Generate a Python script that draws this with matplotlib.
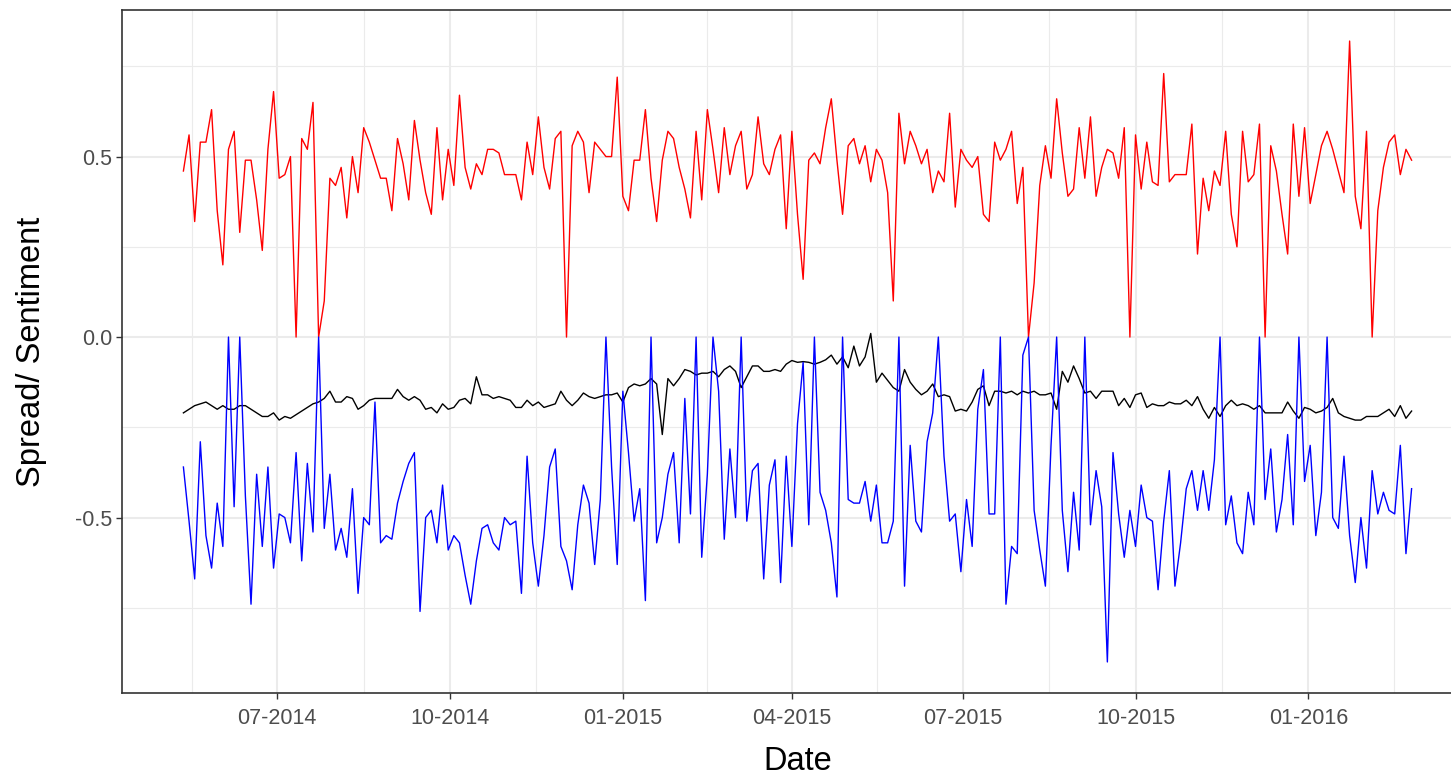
import numpy as np
import pandas as pd
import matplotlib
matplotlib.use("Agg")
import matplotlib.pyplot as plt
import matplotlib.dates as mdates
from matplotlib.ticker import FixedLocator, FuncFormatter

start_date = "2014-05-12"
step_days = 3

red_values = [
    0.46, 0.56, 0.32, 0.54, 0.54, 0.63, 0.35, 0.20, 0.52, 0.57,
    0.29, 0.49, 0.49, 0.38, 0.24, 0.52, 0.68, 0.44, 0.45, 0.50,
    0.00, 0.55, 0.52, 0.65, 0.00, 0.10, 0.44, 0.42, 0.47, 0.33,
    0.50, 0.40, 0.58, 0.54, 0.49, 0.44,
    0.44, 0.35, 0.55, 0.48, 0.38, 0.60, 0.49, 0.40, 0.34, 0.58,
    0.38, 0.52, 0.42, 0.67, 0.47, 0.41, 0.48, 0.45, 0.52, 0.52,
    0.51, 0.45, 0.45, 0.45, 0.38, 0.54, 0.45, 0.61, 0.47, 0.41,
    0.55, 0.57, 0.00, 0.53, 0.57, 0.54, 0.40,
    0.54, 0.52, 0.50, 0.50, 0.72, 0.39, 0.35, 0.49, 0.49, 0.63,
    0.44, 0.32, 0.49, 0.57, 0.55, 0.47, 0.41, 0.33, 0.57, 0.38,
    0.63, 0.52, 0.40, 0.58, 0.45, 0.53, 0.57, 0.41, 0.45, 0.61,
    0.48, 0.45, 0.52, 0.56, 0.30, 0.57,
    0.34, 0.16, 0.49, 0.51, 0.48, 0.58, 0.66, 0.49, 0.34, 0.53,
    0.55, 0.48, 0.53, 0.43, 0.52, 0.49, 0.40, 0.10, 0.62, 0.48,
    0.57, 0.53, 0.48, 0.52, 0.40, 0.46, 0.43, 0.62, 0.36, 0.52,
    0.49, 0.47, 0.50, 0.34, 0.32, 0.54, 0.49,
    0.52, 0.57, 0.37, 0.47, 0.00, 0.15, 0.42, 0.53, 0.44, 0.66,
    0.51, 0.39, 0.41, 0.58, 0.44, 0.61, 0.39, 0.47, 0.52, 0.51,
    0.44, 0.58, 0.00, 0.56, 0.41, 0.54, 0.43, 0.42, 0.73, 0.43,
    0.45, 0.45, 0.45, 0.59, 0.23, 0.44,
    0.35, 0.46, 0.42, 0.57, 0.34, 0.25, 0.57, 0.43, 0.45, 0.59,
    0.00, 0.53, 0.46, 0.34, 0.23, 0.59, 0.39, 0.58, 0.37, 0.45,
    0.53, 0.57, 0.52, 0.46, 0.40, 0.82, 0.39, 0.30, 0.57, 0.00,
    0.35, 0.47, 0.54, 0.56, 0.45, 0.52, 0.49,
]

blue_values = [
    -0.36, -0.51, -0.67, -0.29, -0.55, -0.64, -0.46, -0.58, 0.00, -0.47,
    0.00, -0.44, -0.74, -0.38, -0.58, -0.36, -0.64, -0.49, -0.50, -0.57,
    -0.32, -0.62, -0.35, -0.54, 0.00, -0.53, -0.38, -0.59, -0.53, -0.61,
    -0.42, -0.71, -0.50, -0.52, -0.18, -0.57,
    -0.55, -0.56, -0.46, -0.40, -0.35, -0.32, -0.76, -0.50, -0.48, -0.57,
    -0.41, -0.59, -0.55, -0.57, -0.66, -0.74, -0.62, -0.53, -0.52, -0.57,
    -0.59, -0.50, -0.52, -0.51, -0.71, -0.33, -0.57, -0.69, -0.55, -0.36,
    -0.31, -0.58, -0.62, -0.70, -0.52, -0.41, -0.46,
    -0.63, -0.45, 0.00, -0.36, -0.63, -0.15, -0.32, -0.51, -0.42, -0.73,
    0.00, -0.57, -0.50, -0.38, -0.32, -0.57, -0.17, -0.49, 0.00, -0.61,
    -0.38, 0.00, -0.15, -0.56, -0.31, -0.50, 0.00, -0.51, -0.37, -0.35,
    -0.67, -0.41, -0.34, -0.68, -0.33, -0.58,
    -0.24, -0.07, -0.52, 0.00, -0.43, -0.48, -0.57, -0.72, 0.00, -0.45,
    -0.46, -0.46, -0.40, -0.51, -0.41, -0.57, -0.57, -0.51, 0.00, -0.69,
    -0.30, -0.51, -0.54, -0.29, -0.21, 0.00, -0.33, -0.51, -0.49, -0.65,
    -0.45, -0.58, -0.20, -0.09, -0.49, -0.49, 0.00,
    -0.74, -0.58, -0.60, -0.05, 0.00, -0.48, -0.59, -0.69, -0.30, 0.00,
    -0.48, -0.65, -0.43, -0.59, 0.00, -0.52, -0.37, -0.47, -0.90, -0.32,
    -0.49, -0.61, -0.48, -0.58, -0.41, -0.50, -0.51, -0.70, -0.51, -0.37,
    -0.69, -0.57, -0.42, -0.37, -0.48, -0.37,
    -0.48, -0.34, 0.00, -0.52, -0.44, -0.57, -0.60, -0.43, -0.52, 0.00,
    -0.45, -0.31, -0.54, -0.45, -0.27, -0.52, 0.00, -0.40, -0.30, -0.55,
    -0.43, 0.00, -0.50, -0.53, -0.33, -0.55, -0.68, -0.50, -0.64, -0.37,
    -0.49, -0.43, -0.48, -0.49, -0.30, -0.60, -0.42,
]

black_values = [
    -0.21, -0.20, -0.19, -0.185, -0.18, -0.19, -0.20, -0.19, -0.20, -0.20,
    -0.19, -0.19, -0.20, -0.21, -0.22, -0.22, -0.21, -0.23, -0.22, -0.225,
    -0.215, -0.205, -0.195, -0.185, -0.18, -0.17, -0.15, -0.18, -0.18, -0.165,
    -0.17, -0.20, -0.19, -0.175, -0.17, -0.17,
    -0.17, -0.17, -0.145, -0.165, -0.175, -0.165, -0.175, -0.20, -0.195, -0.21,
    -0.185, -0.20, -0.195, -0.175, -0.17, -0.185, -0.11, -0.16, -0.16, -0.17,
    -0.165, -0.17, -0.175, -0.195, -0.195, -0.175, -0.19, -0.18, -0.195, -0.19,
    -0.185, -0.15, -0.175, -0.19, -0.175, -0.155, -0.165,
    -0.17, -0.165, -0.16, -0.16, -0.155, -0.18, -0.14, -0.13, -0.135, -0.13,
    -0.115, -0.13, -0.27, -0.115, -0.135, -0.115, -0.09, -0.095, -0.105, -0.10,
    -0.10, -0.095, -0.11, -0.09, -0.08, -0.095, -0.14, -0.11, -0.08, -0.08,
    -0.095, -0.095, -0.09, -0.095, -0.075, -0.065,
    -0.07, -0.068, -0.07, -0.075, -0.07, -0.063, -0.05, -0.075, -0.055, -0.085,
    -0.025, -0.08, -0.055, 0.01, -0.125, -0.10, -0.12, -0.14, -0.15, -0.09,
    -0.125, -0.145, -0.16, -0.15, -0.13, -0.165, -0.16, -0.165, -0.205, -0.20,
    -0.205, -0.18, -0.145, -0.135, -0.19, -0.15, -0.15,
    -0.155, -0.15, -0.16, -0.15, -0.155, -0.15, -0.16, -0.16, -0.155, -0.20,
    -0.095, -0.125, -0.08, -0.115, -0.155, -0.15, -0.17, -0.15, -0.15, -0.15,
    -0.19, -0.17, -0.195, -0.16, -0.155, -0.195, -0.185, -0.19, -0.19, -0.18,
    -0.185, -0.185, -0.175, -0.19, -0.165, -0.20,
    -0.225, -0.195, -0.22, -0.19, -0.175, -0.19, -0.185, -0.19, -0.20, -0.19,
    -0.21, -0.21, -0.21, -0.21, -0.18, -0.205, -0.225, -0.195, -0.20, -0.21,
    -0.205, -0.195, -0.17, -0.21, -0.22, -0.225, -0.23, -0.23, -0.22, -0.22,
    -0.22, -0.21, -0.20, -0.22, -0.19, -0.225, -0.205,
]

y_major = [-0.5, 0.0, 0.5]
y_minor = [-0.75, -0.25, 0.25, 0.75]
x_label = "Date"
y_label = "Spread/ Sentiment"

# ---- figure ----
plt.rcParams['font.family'] = ['Liberation Sans', 'DejaVu Sans']

dates = pd.date_range(start_date, periods=len(red_values), freq=f"{step_days}D")

W, H = 1451, 776
fig = plt.figure(figsize=(W / 100, H / 100), dpi=100)
# the reference panel runs past the right edge of the picture
ax = fig.add_axes([122 / W, 1 - 693 / H, (1473 - 122) / W, (693 - 10) / H])

ax.plot(dates, red_values, color="red", lw=1.0, zorder=3)
ax.plot(dates, black_values, color="black", lw=1.0, zorder=3)
ax.plot(dates, blue_values, color="blue", lw=1.0, zorder=4)
ax.margins(x=0.05, y=0.05)

# x axis: quarterly breaks, minor at midpoints
quarters = pd.date_range("2014-01-01", "2016-07-01", freq="QS")
qnum = mdates.date2num(quarters.to_pydatetime())
ax.xaxis.set_major_locator(FixedLocator(qnum))
ax.xaxis.set_minor_locator(FixedLocator((qnum[:-1] + qnum[1:]) / 2))
ax.xaxis.set_major_formatter(mdates.DateFormatter("%m-%Y"))

ax.yaxis.set_major_locator(FixedLocator(y_major))
ax.yaxis.set_minor_locator(FixedLocator(y_minor))
ax.yaxis.set_major_formatter(FuncFormatter(lambda v, p: f"{v:.1f}"))

ax.grid(which="major", color="#EBEBEB", lw=1.5, zorder=0)
ax.grid(which="minor", color="#EBEBEB", lw=0.8, zorder=0)
ax.set_axisbelow(True)

for s in ax.spines.values():
    s.set_color("#333333")
    s.set_linewidth(1.2)

ax.tick_params(which="major", length=4, width=1, color="#333333",
               labelcolor="#4D4D4D", labelsize=15.5)
ax.tick_params(axis="x", which="major", pad=7)
ax.tick_params(axis="y", which="major", pad=3)
ax.tick_params(which="minor", length=0)

ax.set_xlabel(x_label, fontsize=23.5, color="black", labelpad=12)
ax.set_ylabel(y_label, fontsize=23.5, color="black", labelpad=20)

fig.savefig("out.png", dpi=100, facecolor="white")
